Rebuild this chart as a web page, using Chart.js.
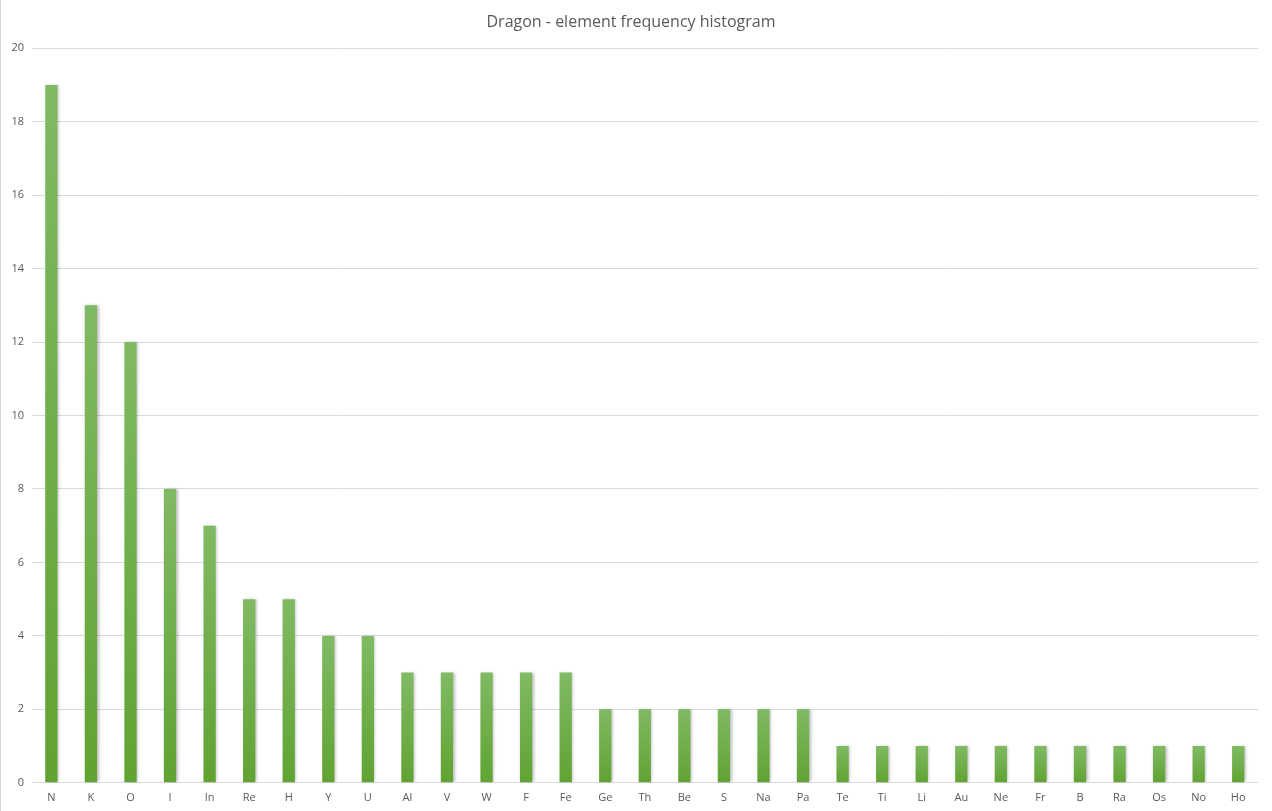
<!DOCTYPE html>
<html>
<head>
<meta charset="utf-8">
<script src="https://cdn.jsdelivr.net/npm/chart.js@4/dist/chart.umd.min.js"></script>
<style>
  html, body { margin: 0; padding: 0; background: #fff; }
  #wrap { width: 1272px; height: 811px; position: relative; border-left: 1px solid #d9d9d9; box-sizing: border-box; }
</style>
</head>
<body>
<div id="wrap"><canvas id="chart" width="1271" height="811"></canvas></div>
<script>
/* global Chart */

const chartTitle = 'Dragon - element frequency histogram';
const elements = ['N', 'K', 'O', 'I', 'In', 'Re', 'H', 'Y', 'U', 'Al', 'V', 'W', 'F', 'Fe', 'Ge',
  'Th', 'Be', 'S', 'Na', 'Pa', 'Te', 'Ti', 'Li', 'Au', 'Ne', 'Fr', 'B', 'Ra', 'Os', 'No', 'Ho'];
const counts = [19, 13, 12, 8, 7, 5, 5, 4, 4, 3, 3, 3, 3, 3, 2,
  2, 2, 2, 2, 2, 1, 1, 1, 1, 1, 1, 1, 1, 1, 1, 1];

const GREEN_TOP = '#80ba63';
const GREEN_BOTTOM = '#60a332';

Chart.defaults.font.family = "'Open Sans', 'Noto Sans', sans-serif";
Chart.defaults.color = '#595959';

// gradient per bar, from its top down to the zero line
function barFill(c) {
  const chart = c.chart;
  if (!chart.chartArea || c.raw == null) return GREEN_BOTTOM;
  const y = chart.scales.y;
  const g = chart.ctx.createLinearGradient(0, y.getPixelForValue(c.raw), 0, y.getPixelForValue(0));
  g.addColorStop(0, GREEN_TOP);
  g.addColorStop(1, GREEN_BOTTOM);
  return g;
}

const barShadow = {
  id: 'barShadow',
  beforeDatasetsDraw(chart) {
    const ctx = chart.ctx;
    ctx.save();
    ctx.shadowColor = 'rgba(0,0,0,0.28)';
    ctx.shadowBlur = 3;
    ctx.shadowOffsetX = 1.5;
    ctx.shadowOffsetY = 0;
  },
  afterDatasetsDraw(chart) {
    chart.ctx.restore();
  },
};

new Chart(document.getElementById('chart'), {
  type: 'bar',
  data: {
    labels: elements,
    datasets: [{
      data: counts,
      backgroundColor: barFill,
      borderWidth: 0,
      barPercentage: 0.31,
      categoryPercentage: 1.0,
    }],
  },
  options: {
    responsive: false,
    animation: false,
    layout: { padding: { left: 3, right: 14, top: 5, bottom: 7 } },
    plugins: {
      legend: { display: false },
      tooltip: { enabled: false },
      title: {
        display: true,
        text: chartTitle,
        color: '#595959',
        font: { size: 16, weight: 'normal' },
        padding: { top: 8, bottom: 16 },
      },
    },
    scales: {
      x: {
        grid: { display: false },
        border: { display: false },
        ticks: { font: { size: 11 }, maxRotation: 0, autoSkip: false, padding: 0 },
      },
      y: {
        min: 0,
        max: 20,
        grid: { color: '#d9d9d9', drawTicks: false },
        border: { display: false },
        ticks: { stepSize: 2, font: { size: 11 }, padding: 7.5 },
      },
    },
  },
  plugins: [barShadow],
});
</script>
</body>
</html>
